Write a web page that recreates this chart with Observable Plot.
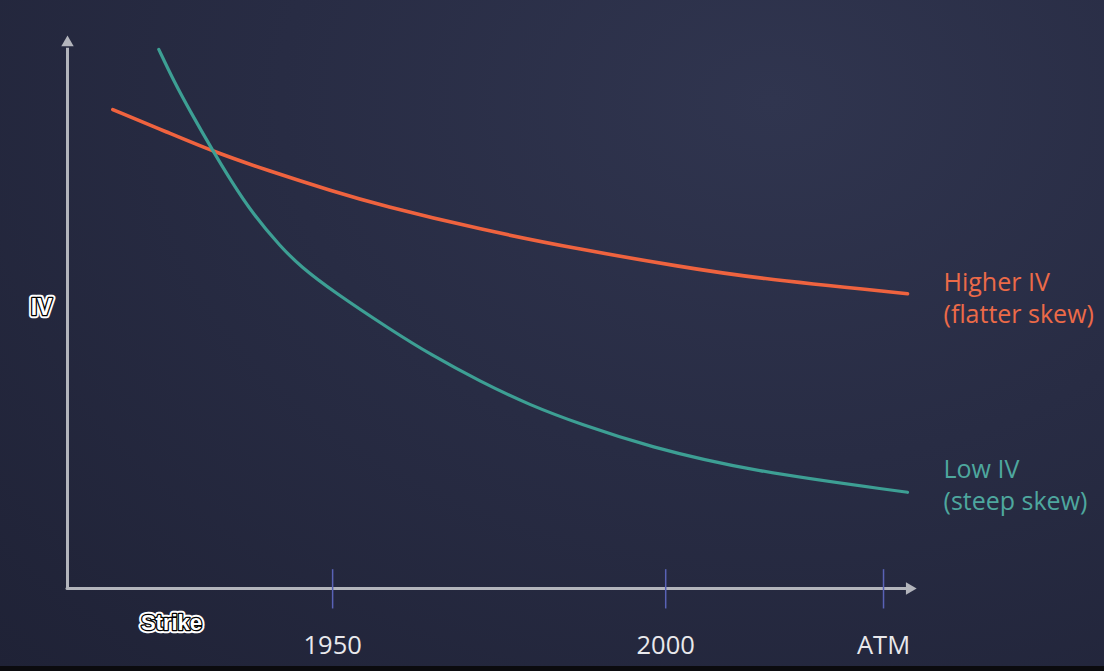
<!DOCTYPE html>
<html>
<head>
<meta charset="utf-8">
<script src="https://cdn.jsdelivr.net/npm/d3@7"></script>
<script src="https://cdn.jsdelivr.net/npm/@observablehq/plot@0.6"></script>
<style>
  html, body { margin: 0; padding: 0; width: 1104px; height: 671px; overflow: hidden; }
  body {
    background:
      linear-gradient(to bottom, rgba(0,0,0,0) 0px, rgba(0,0,0,0) 666px, #0b0b0e 666px),
      radial-gradient(ellipse at 70% 15%, #30354f 0%, #282c44 45%, #1f2236 100%);
  }
  #chart svg { display: block; overflow: visible; background: transparent; }
</style>
</head>
<body>
<div id="chart"></div>
<script>
// Strike (x) values and implied volatility (arbitrary units)
const higherStrike = [1917.0, 1925.2, 1932.1, 1940.2, 1950.1, 1957.2, 1972.2, 1987.2, 2002.2, 2012.8, 2036.3];
const higherIV     = [86.6, 82.5, 79.0, 75.6, 71.8, 69.3, 64.9, 61.3, 58.2, 56.2, 53.3];
const lowStrike    = [1923.9, 1926.1, 1928.7, 1932.0, 1934.7, 1938.1, 1942.2, 1945.2, 1950.1, 1958.7, 1964.7, 1972.2, 1979.7, 1987.2, 1997.3, 2012.8, 2036.3];
const lowIV        = [97.5, 91.9, 86.1, 79.2, 73.8, 67.6, 61.8, 58.2, 53.7, 46.8, 42.3, 37.4, 33.1, 29.7, 25.7, 21.2, 17.4];

const tickValues = [1950, 2000, 2032.7];
const tickLabels = ["1950", "2000", "ATM"];
const seriesNames = ["Higher IV\n(flatter skew)", "Low IV\n(steep skew)"];
const xTitle = "Strike";
const yTitle = "IV";

const xDomain = [1910.2, 2038.4];
const yDomain = [0, 100];
const axisEndX = 2036.6;   // where the x-axis arrow sits
const axisEndY = 98.7;     // where the y-axis arrow sits

const orange = "#ef633f";
const teal = "#3d9f94";
const axisGrey = "#b3b5bc";
const tickBlue = "#5962b6";

const higher = higherStrike.map((s, i) => ({strike: s, iv: higherIV[i], series: seriesNames[0]}));
const low = lowStrike.map((s, i) => ({strike: s, iv: lowIV[i], series: seriesNames[1]}));

const fontFam = "'Open Sans', 'Noto Sans', sans-serif";
const titleFont = "'Liberation Sans', Arial, sans-serif";

const chart = Plot.plot({
  width: 1104,
  height: 671,
  marginLeft: 67,
  marginRight: 183,
  marginTop: 35,
  marginBottom: 83,
  style: {background: "transparent", fontFamily: fontFam, overflow: "visible"},
  x: {domain: xDomain, axis: null},
  y: {domain: yDomain, axis: null},
  marks: [
    // axes lines
    Plot.ruleX([xDomain[0]], {y1: yDomain[0], y2: axisEndY - 1, stroke: axisGrey, strokeWidth: 3}),
    Plot.ruleY([yDomain[0]], {x1: xDomain[0], x2: axisEndX - 0.5, stroke: axisGrey, strokeWidth: 3, strokeLinecap: "round"}),
    Plot.dot([{x: xDomain[0], y: axisEndY}], {x: "x", y: "y", symbol: "triangle", r: 4.6, fill: axisGrey, stroke: null}),
    Plot.dot([{x: axisEndX, y: yDomain[0]}], {x: "x", y: "y", symbol: "triangle", r: 4.6, fill: axisGrey, stroke: null, rotate: 90}),
    // tick marks
    Plot.ruleX(tickValues, {y1: -3.7, y2: 3.4, stroke: tickBlue, strokeWidth: 1.5}),
    Plot.axisX(tickValues, {
      tickSize: 0, tickPadding: 47, fontSize: 25.5, fill: "#e9e9ec",
      tickFormat: (d) => tickLabels[tickValues.indexOf(d)],
      fontFamily: fontFam
    }),
    // curves
    Plot.line(higher, {x: "strike", y: "iv", stroke: orange, strokeWidth: 3.6, curve: "basis", strokeLinecap: "round"}),
    Plot.line(low, {x: "strike", y: "iv", stroke: teal, strokeWidth: 3.2, curve: "basis", strokeLinecap: "round"}),
    // end labels
    Plot.text(higher, Plot.selectLast({x: "strike", y: "iv", text: "series", textAnchor: "start", lineAnchor: "middle", dx: 36, dy: 3, fill: "#ec6a48", fontSize: 25, lineHeight: 1.28})),
    Plot.text(low, Plot.selectLast({x: "strike", y: "iv", text: "series", textAnchor: "start", lineAnchor: "middle", dx: 36, dy: -9, fill: "#4ea79e", fontSize: 25, lineHeight: 1.28})),
    // outlined axis titles (outer white halo, black outline, white fill)
    Plot.text([yTitle], {frameAnchor: "left", textAnchor: "middle", dx: -26, dy: -4, fontSize: 23, fontWeight: "bold", fontFamily: titleFont, fill: "white", stroke: "white", strokeWidth: 6.5, strokeLinejoin: "round"}),
    Plot.text([yTitle], {frameAnchor: "left", textAnchor: "middle", dx: -26, dy: -4, fontSize: 23, fontWeight: "bold", fontFamily: titleFont, fill: "white", stroke: "black", strokeWidth: 2.6, strokeLinejoin: "round"}),
    Plot.text([xTitle], {frameAnchor: "bottom-left", textAnchor: "middle", dx: 104, dy: 41, fontSize: 22, fontWeight: "bold", fontFamily: titleFont, fill: "white", stroke: "white", strokeWidth: 6.5, strokeLinejoin: "round"}),
    Plot.text([xTitle], {frameAnchor: "bottom-left", textAnchor: "middle", dx: 104, dy: 41, fontSize: 22, fontWeight: "bold", fontFamily: titleFont, fill: "white", stroke: "black", strokeWidth: 2.6, strokeLinejoin: "round"})
  ]
});
document.getElementById("chart").appendChild(chart);
</script>
</body>
</html>
